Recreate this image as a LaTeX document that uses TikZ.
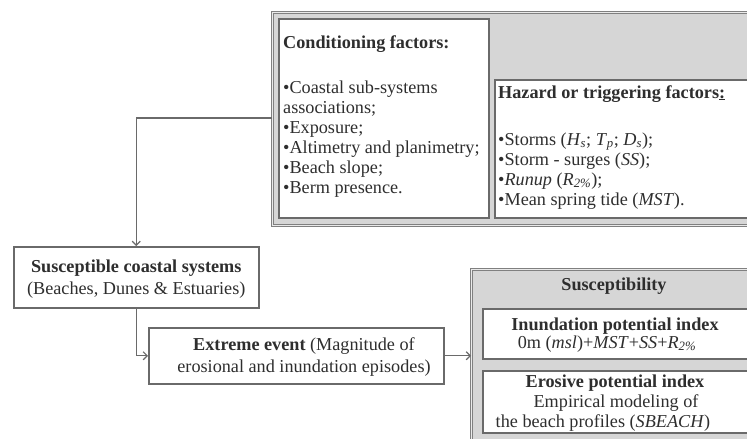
\documentclass[tikz,border=0pt]{standalone}
\usepackage{fontspec}
\setmainfont{Liberation Serif}
\usetikzlibrary{arrows.meta}
\definecolor{boxgray}{HTML}{D6D6D6}
\definecolor{linegray}{HTML}{6A6A6A}
\definecolor{txt}{HTML}{2E2E2E}
\begin{document}
\begin{tikzpicture}[x=1pt,y=-1pt,
  font=\fontsize{18.2}{18.2}\selectfont, text=txt,
  graybox/.style={draw=linegray!85, double=boxgray!50!white, double distance=1.4pt, line width=0.9pt,
    fill=boxgray, anchor=north west, inner sep=0pt},
  whitebox/.style={draw=linegray, line width=1.5pt, fill=white, anchor=north west, inner sep=0pt},
  ltxt/.style={anchor=base west, inner sep=0pt},
  ctxt/.style={anchor=base, inner sep=0pt},
  conn/.style={draw=linegray, line width=1.2pt, -{Straight Barb[length=4pt,width=8pt]}}]
\useasboundingbox (0,0) rectangle (747,439);
\clip (0,0) rectangle (747,439);

% top gray group
\node[graybox, minimum width=490pt, minimum height=213pt] (topgray) at (272,12) {};
\node[whitebox, minimum width=210pt, minimum height=199pt] (cond) at (278,18) {};
\node[whitebox, minimum width=260pt, minimum height=138pt] (haz) at (494,79) {};

\node[ltxt] (c0) at (283,48) {\textbf{Conditioning factors:}};
\node[ltxt] (c1) at (283,93) {•Coastal sub-systems};
\node[ltxt] (c2) at (283,113) {associations;};
\node[ltxt] (c3) at (283,133) {•Exposure;};
\node[ltxt] (c4) at (283,153) {•Altimetry and planimetry;};
\node[ltxt] (c5) at (283,173) {•Beach slope;};
\node[ltxt] (c6) at (283,193) {•Berm presence.};

\node[ltxt] (h0) at (498,98) {\textbf{Hazard or triggering factors\underline{:}}};
\node[ltxt] (h1) at (498,145) {•Storms (\textit{H}\textsubscript{\textit{s}}; \textit{T}\textsubscript{\textit{p}}; \textit{D}\textsubscript{\textit{s}});};
\node[ltxt] (h2) at (498,165) {•Storm - surges (\textit{SS});};
\node[ltxt] (h3) at (498,185) {•\textit{Runup} (\textit{R}\textsubscript{\textit{2\%}});};
\node[ltxt] (h4) at (498,205) {•Mean spring tide (\textit{MST}).};

% susceptible coastal systems
\node[whitebox, minimum width=245pt, minimum height=61pt] (susc) at (13,246) {};
\node[ctxt] (s1) at (susc.center |- 0,272) {\textbf{Susceptible coastal systems}};
\node[ctxt] (s2) at (susc.center |- 0,294) {(Beaches, Dunes \& Estuaries)};

% extreme event
\node[whitebox, minimum width=295pt, minimum height=56pt] (ext) at (148,327) {};
\node[ctxt] (e1) at (304,350) {\textbf{Extreme event} (Magnitude of};
\node[ctxt] (e2) at (304,372) {erosional and inundation episodes)};

% susceptibility group
\node[graybox, minimum width=290pt, minimum height=185pt] (sgray) at (471,269) {};
\node[ctxt] (t0) at (614,290) {\textbf{Susceptibility}};
\node[whitebox, minimum width=270pt, minimum height=50pt] (inund) at (482,308) {};
\node[ctxt] (i1) at (615,330) {\textbf{Inundation potential index}};
\node[ctxt] (i2) at (607,348) {0m (\textit{msl})+\textit{MST}+\textit{SS}+\textit{R}\textsubscript{\textit{2\%}}};
\node[whitebox, minimum width=270pt, minimum height=62pt] (eros) at (482,370) {};
\node[ctxt] (r1) at (615,387) {\textbf{Erosive potential index}};
\node[ctxt] (r2) at (616,407) {Empirical modeling of};
\node[ctxt] (r3) at (603,427) {the beach profiles (\textit{SBEACH})};

% connectors
\draw[conn] (topgray.west |- 0,118) -| (susc.north);
\draw[conn] (susc.south) |- (ext.west);
\draw[conn] (ext.east) -- (ext.east -| sgray.west);
\end{tikzpicture}
\end{document}
